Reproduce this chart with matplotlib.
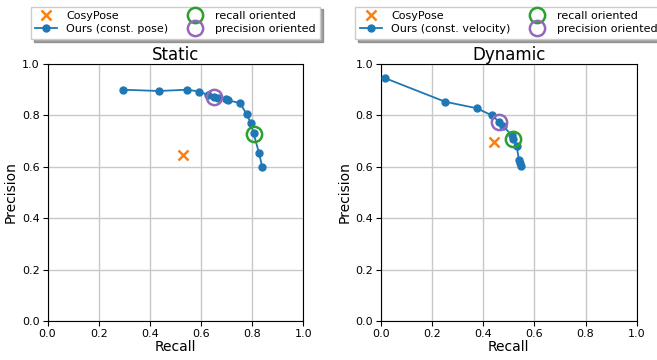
import matplotlib
matplotlib.use('Agg')
import matplotlib.pyplot as plt

# Static sequence (const. pose)
static_recall = [0.296, 0.434, 0.546, 0.592, 0.628, 0.652, 0.666, 0.696, 0.704,
                 0.752, 0.778, 0.794, 0.805, 0.826, 0.839]
static_precision = [0.900, 0.895, 0.900, 0.893, 0.879, 0.873, 0.869, 0.863, 0.859,
                    0.848, 0.805, 0.770, 0.730, 0.655, 0.599]
static_cosy = (0.529, 0.645)
static_recall_or = (0.805, 0.726)
static_prec_or = (0.652, 0.870)

# Dynamic sequence (const. velocity)
dyn_recall = [0.017, 0.252, 0.375, 0.434, 0.463, 0.479, 0.512, 0.518, 0.531,
              0.540, 0.543, 0.547]
dyn_precision = [0.945, 0.853, 0.828, 0.800, 0.775, 0.758, 0.722, 0.710, 0.680,
                 0.628, 0.615, 0.603]
dyn_cosy = (0.443, 0.695)
dyn_recall_or = (0.518, 0.708)
dyn_prec_or = (0.463, 0.773)

fig = plt.figure(figsize=(6.57, 3.6), dpi=100)
ax1 = fig.add_axes([0.0723, 0.1083, 0.3896, 0.7139])
ax2 = fig.add_axes([0.5795, 0.1083, 0.3896, 0.7139])


def draw(ax, rec, prec, cosy, rec_or, prec_or, label, title):
    ax.plot(cosy[0], cosy[1], 'x', color='tab:orange', markersize=7, mew=1.8,
            label='CosyPose', zorder=3)
    ax.plot(rec, prec, '-o', color='tab:blue', markersize=5, lw=1.3,
            label=label, zorder=3)
    ax.plot(rec_or[0], rec_or[1], 'o', mfc='none', mec='tab:green',
            markersize=11, mew=1.8, label='recall oriented', zorder=4)
    ax.plot(prec_or[0], prec_or[1], 'o', mfc='none', mec='tab:purple',
            markersize=11, mew=1.8, label='precision oriented', zorder=4)
    ax.set_xlim(0, 1)
    ax.set_ylim(0, 1)
    ax.set_xticks([0, 0.2, 0.4, 0.6, 0.8, 1.0])
    ax.set_yticks([0, 0.2, 0.4, 0.6, 0.8, 1.0])
    ax.tick_params(labelsize=8, pad=2)
    ax.grid(True, color='#c8c8c8', lw=1)
    ax.set_xlabel('Recall', fontsize=10, labelpad=1)
    ax.set_ylabel('Precision', fontsize=10, labelpad=3)
    ax.set_title(title, fontsize=12, pad=3)
    ax.legend(loc='upper center', bbox_to_anchor=(0.5, 1.245), ncol=2,
              fontsize=8, shadow=True, fancybox=False, framealpha=1,
              handlelength=2, columnspacing=1.4, borderpad=0.4,
              labelspacing=0.3, handletextpad=0.8)


draw(ax1, static_recall, static_precision, static_cosy, static_recall_or,
     static_prec_or, 'Ours (const. pose)', 'Static')
draw(ax2, dyn_recall, dyn_precision, dyn_cosy, dyn_recall_or,
     dyn_prec_or, 'Ours (const. velocity)', 'Dynamic')

fig.savefig('out.png', dpi=100)
